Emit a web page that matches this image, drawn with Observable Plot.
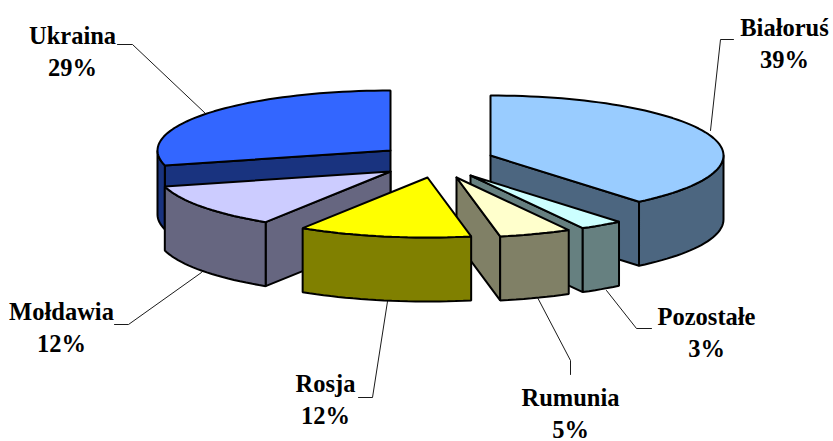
<!DOCTYPE html>
<html lang="pl">
<head>
<meta charset="utf-8">
<title>Udział krajów</title>
<style>
  html, body { margin: 0; padding: 0; background: #fff; }
  svg { display: block; }
</style>
<script src="https://cdn.jsdelivr.net/npm/d3@7"></script>
<script src="https://cdn.jsdelivr.net/npm/@observablehq/plot@0.6"></script>
</head>
<body>
<div id="chart"></div>
<script>
// Slices clockwise from twelve o'clock.
const countries = ["Białoruś", "Pozostałe", "Rumunia", "Rosja", "Mołdawia", "Ukraina"];
const shares = [39, 3, 5, 12, 12, 29];
const topColors = ["#99CCFF", "#CCFFFF", "#FFFFCC", "#FFFF00", "#CCCCFF", "#3366FF"];
const sideColors = ["#4C6680", "#668080", "#808066", "#808000", "#666680", "#19337F"];

// Exploded slice apexes, in the chart's 833×441 coordinate space.
const apexX = [490, 470, 456, 427, 390, 390];
const apexY = [155, 175, 177, 177, 171, 150];

// Centres of the two-line labels and their leader lines.
const labelX = [784, 706, 570, 325, 61, 72];
const labelY = [41, 330, 411, 397, 325, 49];
const leaders = [
  [[733, 39], [720, 39], [710, 130]],
  [[651, 328], [636, 328], [606, 290]],
  [[570, 374], [570, 360], [537, 297]],
  [[358, 397], [372, 397], [387, 301]],
  [[114, 324], [128, 324], [201, 272]],
  [[117, 44], [132, 44], [205, 113]]
];

const radiusX = 233, radiusY = 60, depth = 64;
const lineGap = 1.3;

// Angular extent of every slice, in degrees.
const cumulative = d3.cumsum(shares);
const slices = countries.map((name, i) => ({
  name,
  share: shares[i],
  start: (i ? cumulative[i - 1] : 0) * 3.6,
  end: cumulative[i] * 3.6,
  cx: apexX[i],
  cy: apexY[i],
  top: topColors[i],
  side: sideColors[i]
}));

const rim = (s, deg, drop = 0) => {
  const r = deg * Math.PI / 180;
  return [s.cx + radiusX * Math.sin(r), s.cy - radiusY * Math.cos(r) + drop];
};

const arc = (s, from, to, drop = 0) => {
  const n = Math.max(2, Math.ceil((to - from) / 2));
  return d3.range(n + 1).map(k => rim(s, from + (to - from) * k / n, drop));
};

const closed = pts => [...pts, pts[0]];

// Faces of one extruded slice, painted from the back of the slice forward.
function facesOf(s) {
  const faces = [];
  const apex = [s.cx, s.cy];
  const apexLow = [s.cx, s.cy + depth];
  const cut = deg => closed([apex, rim(s, deg), rim(s, deg, depth), apexLow]);
  if (Math.sin(s.start * Math.PI / 180) < 0) faces.push({pts: cut(s.start), fill: s.side});
  if (Math.sin(s.end * Math.PI / 180) > 0) faces.push({pts: cut(s.end), fill: s.side});
  const from = Math.max(s.start, 90), to = Math.min(s.end, 270);
  if (to > from) {
    faces.push({
      pts: closed([...arc(s, from, to), ...arc(s, from, to, depth).reverse()]),
      fill: s.side
    });
  }
  faces.push({pts: closed([apex, ...arc(s, s.start, s.end)]), fill: s.top});
  return faces;
}

// Nearer slices are painted over the ones behind them.
const paintOrder = ["Ukraina", "Białoruś", "Mołdawia", "Pozostałe", "Rumunia", "Rosja"];
const faces = paintOrder.flatMap(name => facesOf(slices.find(s => s.name === name)));

const plot = Plot.plot({
  width: 833,
  height: 441,
  margin: 0,
  x: {domain: [0, 833], range: [0, 833], axis: null},
  y: {domain: [0, 441], range: [0, 441], axis: null},
  style: {background: "#fff"},
  marks: [
    leaders.map(pts => Plot.line(pts, {
      x: d => d[0], y: d => d[1], stroke: "#000", strokeWidth: 0.9
    })),
    faces.map(f => Plot.line(f.pts, {
      x: d => d[0], y: d => d[1],
      fill: f.fill, stroke: "#000", strokeWidth: 2, strokeLinejoin: "miter"
    })),
    Plot.text(slices, {
      x: (d, i) => labelX[i],
      y: (d, i) => labelY[i],
      text: d => `${d.name}\n${d.share}%`,
      lineAnchor: "middle",
      textAnchor: "middle",
      lineHeight: lineGap,
      fontFamily: "Liberation Serif",
      fontWeight: "bold",
      fontSize: 24.5,
      fill: "#000"
    })
  ]
});
document.getElementById("chart").append(plot);
</script>
</body>
</html>
